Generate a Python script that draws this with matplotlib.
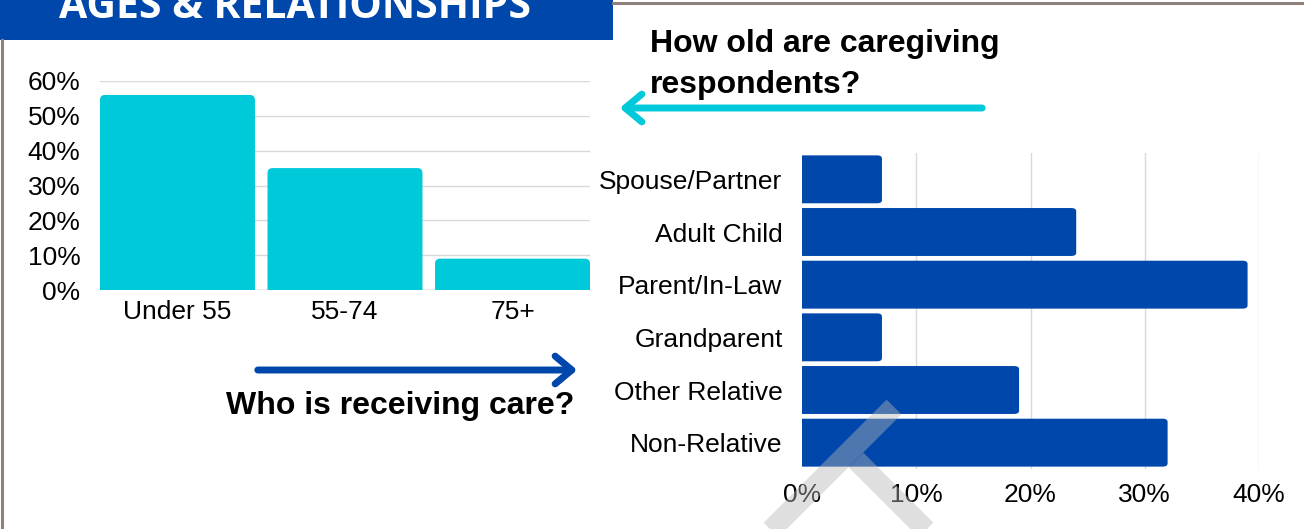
import matplotlib.pyplot as plt
from matplotlib.patches import FancyBboxPatch, Rectangle, FancyArrowPatch
from matplotlib.lines import Line2D
from matplotlib.ticker import PercentFormatter

# ages of caregiving respondents
age_groups = ["Under 55", "55-74", "75+"]
age_share = [0.56, 0.35, 0.09]

# who is receiving care
relations = ["Spouse/Partner", "Adult Child", "Parent/In-Law",
             "Grandparent", "Other Relative", "Non-Relative"]
relation_share = [0.07, 0.24, 0.39, 0.07, 0.19, 0.32]

age_ticks = [0, 0.1, 0.2, 0.3, 0.4, 0.5, 0.6]
rel_ticks = [0, 0.1, 0.2, 0.3, 0.4]

CYAN = "#00C9DA"
BLUE = "#0047AB"
GRID = "#d9d9d9"
FRAME = "#8e817c"

plt.rcParams["font.family"] = ["Liberation Sans", "DejaVu Sans"]

W, H = 1304, 529
fig = plt.figure(figsize=(W / 100, H / 100), dpi=100)


def fx(px):
    return px / W


def fy(py):
    return 1 - py / H


def rounded_bars(ax, bars, rx, ry, horizontal=False):
    # swap plain rectangles for ones with rounded outer corners
    for b in bars:
        x, y = b.get_x(), b.get_y()
        w, h = b.get_width(), b.get_height()
        b.set_visible(False)
        if horizontal:
            x0, w0, y0, h0 = x - rx, w + rx, y, h
        else:
            x0, w0, y0, h0 = x, w, y - ry, h + ry
        p = FancyBboxPatch((x0, y0), w0, h0,
                           boxstyle=f"round,pad=0,rounding_size={rx}",
                           mutation_aspect=ry / rx,
                           fc=b.get_facecolor(), ec="none", zorder=2)
        ax.add_patch(p)


# left: age bars
ax1 = fig.add_axes([fx(100), fy(290), fx(490), fy(81) - fy(290)])
bars1 = ax1.bar(range(len(age_groups)), age_share, width=0.925, color=CYAN)
ax1.set_xlim(-0.4625, 2.4625)
ax1.set_ylim(0, 0.6)
rounded_bars(ax1, bars1, 0.03, 0.0145)
ax1.set_yticks(age_ticks)
ax1.yaxis.set_major_formatter(PercentFormatter(1.0, decimals=0))
ax1.set_xticks(range(len(age_groups)))
ax1.set_xticklabels(age_groups)
ax1.tick_params(length=0, labelsize=19, colors="black")
ax1.tick_params(axis="y", pad=14)
ax1.tick_params(axis="x", pad=7)
for t in age_ticks[1:]:
    ax1.axhline(t, color=GRID, lw=1, zorder=0)
ax1.axhline(0, color="#9a9a9a", lw=1, zorder=1)
for s in ax1.spines.values():
    s.set_visible(False)

# right: relationship bars
ax2 = fig.add_axes([fx(802), fy(469), fx(457), fy(153) - fy(469)])
ypos = range(len(relations))
bars2 = ax2.barh(ypos, relation_share, height=0.91, color=BLUE)
ax2.set_xlim(0, 0.4)
ax2.set_ylim(5.5, -0.5)
rounded_bars(ax2, bars2, 0.0044, 0.06, horizontal=True)
ax2.set_xticks(rel_ticks)
ax2.xaxis.set_major_formatter(PercentFormatter(1.0, decimals=0))
ax2.set_yticks(list(ypos))
ax2.set_yticklabels(relations)
ax2.tick_params(length=0, labelsize=19, colors="black")
ax2.tick_params(axis="y", pad=14)
ax2.tick_params(axis="x", pad=10)
for t in rel_ticks[1:]:
    ax2.axvline(t, color=GRID, lw=1, zorder=0)
for s in ax2.spines.values():
    s.set_visible(False)

# frame lines and header banner
fig.add_artist(Line2D([fx(2), fx(2)], [fy(40), 0], color=FRAME, lw=2.2))
fig.add_artist(Line2D([fx(613), 1], [fy(3), fy(3)], color=FRAME, lw=2.2))
fig.add_artist(Rectangle((0, fy(40)), fx(613), fy(0) - fy(40),
                         transform=fig.transFigure, fc=BLUE, ec="none"))
fig.text(fx(295), fy(18), "AGES & RELATIONSHIPS", color="white",
         fontsize=29.5, fontweight="bold", family=["Open Sans", "DejaVu Sans"],
         ha="center", va="baseline")

# captions and arrows
fig.text(fx(650), fy(52), "How old are caregiving", fontsize=23,
         fontweight="bold", ha="left", va="baseline")
fig.text(fx(650), fy(93), "respondents?", fontsize=23,
         fontweight="bold", ha="left", va="baseline")
fig.text(fx(400), fy(414), "Who is receiving care?", fontsize=23,
         fontweight="bold", ha="center", va="baseline")

for (x0, y0), (x1, y1), c in [((985, 108), (617, 108), CYAN),
                              ((255, 370), (580, 370), BLUE)]:
    fig.add_artist(FancyArrowPatch((fx(x0), fy(y0)), (fx(x1), fy(y1)),
                                   transform=fig.transFigure,
                                   arrowstyle="->,head_length=1.2,head_width=1.0",
                                   mutation_scale=10, lw=5, color=c,
                                   capstyle="round", joinstyle="round"))

# faint watermark strokes across the bottom (second one butts against the first)
wm = dict(color="#b7b7b7", alpha=0.43, lw=15, solid_capstyle="butt", zorder=10)
fig.add_artist(Line2D([fx(894), fx(757)], [fy(407), fy(544)], **wm))
fig.add_artist(Line2D([fx(856), fx(936)], [fy(460), fy(540)], **wm))

fig.savefig("out.png", dpi=100)
